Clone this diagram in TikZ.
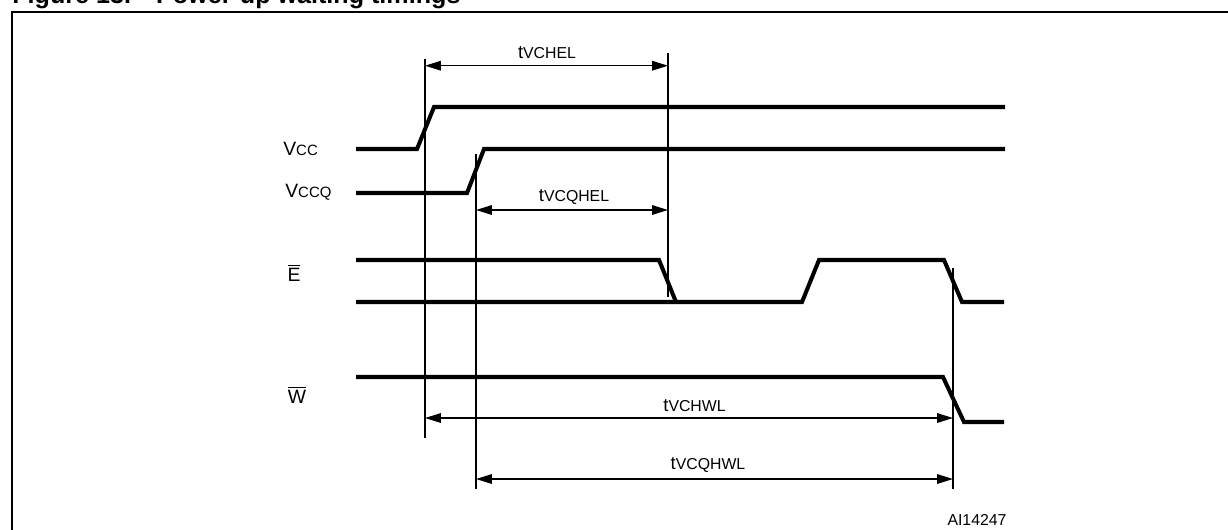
\documentclass[tikz,border=0pt]{standalone}
\usepackage{fontspec}
\setmainfont{Liberation Sans}
\usetikzlibrary{arrows.meta}
\tikzset{
    signal/.style={line width=2.3pt, line join=miter},
    marker/.style={line width=0.8pt},
    dimline/.style={line width=0.8pt, {Triangle[length=9pt,width=5.4pt]}-{Triangle[length=9pt,width=5.4pt]}},
    tlabel/.style={inner sep=0pt, anchor=base, font=\fontsize{9}{10}\selectfont},
    siglabel/.style={inner sep=0pt, anchor=base west, font=\fontsize{11}{12}\selectfont},
}
\newcommand{\tsym}[1]{{\fontsize{10.5}{11}\selectfont t}#1}
\newcommand{\vsym}[1]{V{\fontsize{8.5}{9}\selectfont #1}}

\begin{document}
\begin{tikzpicture}[x=0.02cm, y=-0.02cm]
        \useasboundingbox (0,0) rectangle (1228,529);
        \clip (0,0) rectangle (1228,529);

        % title and frame
        \node[inner sep=0pt, anchor=base west, font=\fontsize{14.3}{15}\selectfont\bfseries] (title) at (12,3.5) {Figure 13.\quad Power-up waiting timings};
        \draw[line width=1.15pt] (11.7,11.7) rectangle (1240,545);

        % signal names
        \node[siglabel] (vcc) at (283,155) {\vsym{CC}};
        \node[siglabel] (vccq) at (285,197) {\vsym{CCQ}};
        \node[siglabel, anchor=base] (e) at (294,281) {$\overline{\mbox{E}}$};
        \node[siglabel, anchor=base] (w) at (297,403) {$\overline{\mbox{W}}$};

        % waveforms
        \draw[signal] (356,149) -- (417,149) -- (434,107) -- (1005,107);
        \draw[signal] (356,193) -- (467,193) -- (484,149) -- (1005,149);
        \draw[signal] (356,260) -- (659,260) -- (676,302);
        \draw[signal] (356,302) -- (802,302) -- (819,260) -- (944,260) -- (962,302) -- (1004,302);
        \draw[signal] (356,377) -- (943,377) -- (964,422) -- (1004,422);

        % timing markers
        \draw[marker] (425,59) -- (425,438);
        \draw[marker] (476,154) -- (476,489);
        \draw[marker] (668,53) -- (668,297);
        \draw[marker] (953,268) -- (953,489);

        % timings
        \draw[dimline] (425,65.7) -- (668,65.7);
        \node[tlabel] (tvchel) at (547,58.3) {\tsym{VCHEL}};
        \draw[dimline] (476,210) -- (668,210);
        \node[tlabel] (tvcqhel) at (574,201.7) {\tsym{VCQHEL}};
        \draw[dimline] (425,418) -- (953,418);
        \node[tlabel] (tvchwl) at (694.5,411.7) {\tsym{VCHWL}};
        \draw[dimline] (476,479) -- (953,479);
        \node[tlabel] (tvcqhwl) at (708,469.3) {\tsym{VCQHWL}};

        \node[tlabel] (ref) at (977,525) {AI14247};
\end{tikzpicture}
\end{document}
